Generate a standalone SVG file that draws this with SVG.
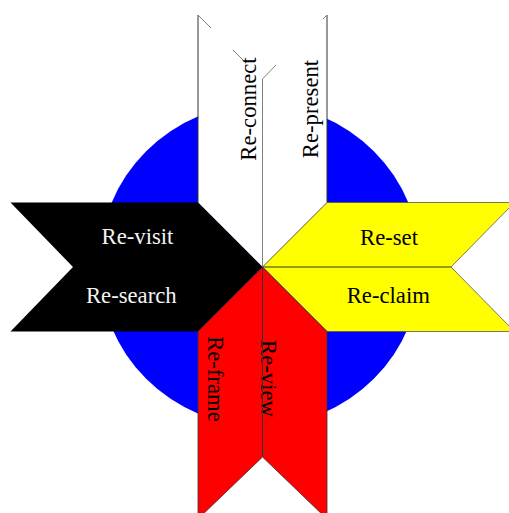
<svg xmlns="http://www.w3.org/2000/svg" width="509" height="513" viewBox="0 0 509 513">
<style>
text{font-family:"Liberation Serif","Times New Roman",serif;font-size:22.7px;text-anchor:middle}
.dk{fill:#000}
.lt{fill:#f4f4f4}
.edge{stroke:#333;stroke-width:1;fill:none}
.grey{stroke:#808080;stroke-width:1;fill:none}
</style>
<rect width="509" height="513" fill="#fff"/>
<g id="circle"><circle cx="260" cy="265" r="161" fill="#0000ff"/></g>
<g id="top">
<polygon points="198,15 262.5,79 327,15 327,202.5 262.5,267 198,202.5" fill="#fff"/>
<line class="edge" x1="198" y1="15" x2="198" y2="202.5"/>
<line class="edge" x1="327" y1="15" x2="327" y2="202.5"/>
<line class="grey" x1="198" y1="15" x2="211" y2="28"/>
<line class="grey" x1="233" y1="50" x2="243" y2="60"/>
<line class="grey" x1="262.5" y1="79" x2="276" y2="65"/>
<line class="grey" x1="323" y1="19" x2="327" y2="15"/>
<text class="dk" transform="translate(256,109) rotate(-90)">Re-connect</text>
<text class="dk" transform="translate(317.5,109) rotate(-90)">Re-present</text>
</g>
<g id="left">
<polygon points="10.5,202.5 198,202.5 262.5,267 198,331.5 10.5,331.5 73,267" fill="#000"/>
<text class="lt" x="137.5" y="244.3">Re-visit</text>
<text class="lt" x="131.3" y="303.3">Re-search</text>
</g>
<g id="right">
<polygon points="262.5,267 327,202.5 514.5,202.5 451,267 514.5,331.5 327,331.5" fill="#ffff00" stroke="#555" stroke-width="0.8"/>
<text class="dk" x="389" y="245">Re-set</text>
<text class="dk" x="388.3" y="303.3">Re-claim</text>
</g>
<g id="bottom">
<polygon points="262.5,267 327,331.5 327,519 262.5,457 198,519 198,331.5" fill="#ff0000" stroke="#333" stroke-width="0.8"/>
<text class="dk" transform="translate(208,379) rotate(90)">Re-frame</text>
<text class="dk" transform="translate(261,378.5) rotate(90)">Re-view</text>
</g>
<g id="connectors">
<line class="grey" x1="262.5" y1="79" x2="262.5" y2="267"/>
<line class="edge" x1="262.5" y1="267" x2="451" y2="267"/>
<line class="edge" x1="262.5" y1="267" x2="262.5" y2="457"/>
</g>
</svg>
